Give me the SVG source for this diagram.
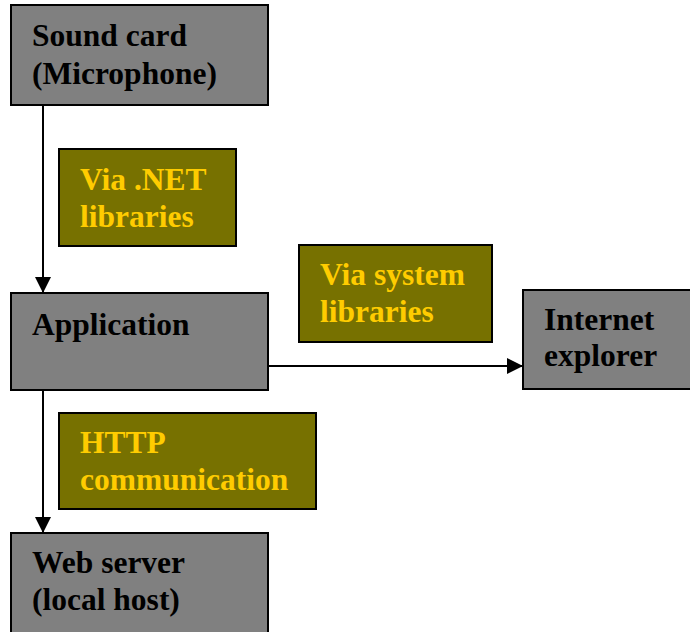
<svg xmlns="http://www.w3.org/2000/svg" width="690" height="632" viewBox="0 0 690 632">
  <style>
    .node { fill: #808080; stroke: #000; stroke-width: 2; }
    .note { fill: #777100; stroke: #000; stroke-width: 2; }
    .nt { font-family: "Liberation Serif", "Times New Roman", serif; font-weight: bold; font-size: 31.5px; fill: #000; }
    .lt { font-family: "Liberation Serif", "Times New Roman", serif; font-weight: bold; font-size: 31.5px; fill: #ffcc00; }
    .edge { fill: none; stroke: #000; stroke-width: 2; }
  </style>
  <defs>
    <marker id="arrow" viewBox="0 0 16 16" refX="16" refY="8" markerWidth="16" markerHeight="16" markerUnits="userSpaceOnUse" orient="auto">
      <path d="M0,0 L16,8 L0,16 Z" fill="#000"/>
    </marker>
  </defs>
  <rect width="690" height="632" fill="#fff"/>

  <g id="connectors">
    <line class="edge" x1="43" y1="105" x2="43" y2="293" marker-end="url(#arrow)"/>
    <line class="edge" x1="43" y1="390" x2="43" y2="533" marker-end="url(#arrow)"/>
    <line class="edge" x1="268" y1="366" x2="523" y2="366" marker-end="url(#arrow)"/>
  </g>

  <g id="sound-card">
    <rect class="node" x="11" y="5" width="257" height="100"/>
    <text class="nt" x="32" y="46">Sound card</text>
    <text class="nt" x="32" y="84">(Microphone)</text>
  </g>

  <g id="label-net">
    <rect class="note" x="59" y="149" width="177" height="97"/>
    <text class="lt" x="80" y="190">Via .NET</text>
    <text class="lt" x="80" y="227">libraries</text>
  </g>

  <g id="application">
    <rect class="node" x="11" y="293" width="257" height="97"/>
    <text class="nt" x="32" y="335">Application</text>
  </g>

  <g id="label-system">
    <rect class="note" x="299" y="245" width="193" height="97"/>
    <text class="lt" x="320" y="285">Via system</text>
    <text class="lt" x="320" y="322">libraries</text>
  </g>

  <g id="internet-explorer">
    <rect class="node" x="523" y="290" width="180" height="99"/>
    <text class="nt" x="544" y="330">Internet</text>
    <text class="nt" x="544" y="366">explorer</text>
  </g>

  <g id="label-http">
    <rect class="note" x="59" y="413" width="257" height="96"/>
    <text class="lt" x="80" y="453">HTTP</text>
    <text class="lt" x="80" y="490">communication</text>
  </g>

  <g id="web-server">
    <rect class="node" x="11" y="533" width="257" height="110"/>
    <text class="nt" x="32" y="573">Web server</text>
    <text class="nt" x="32" y="610">(local host)</text>
  </g>
</svg>
